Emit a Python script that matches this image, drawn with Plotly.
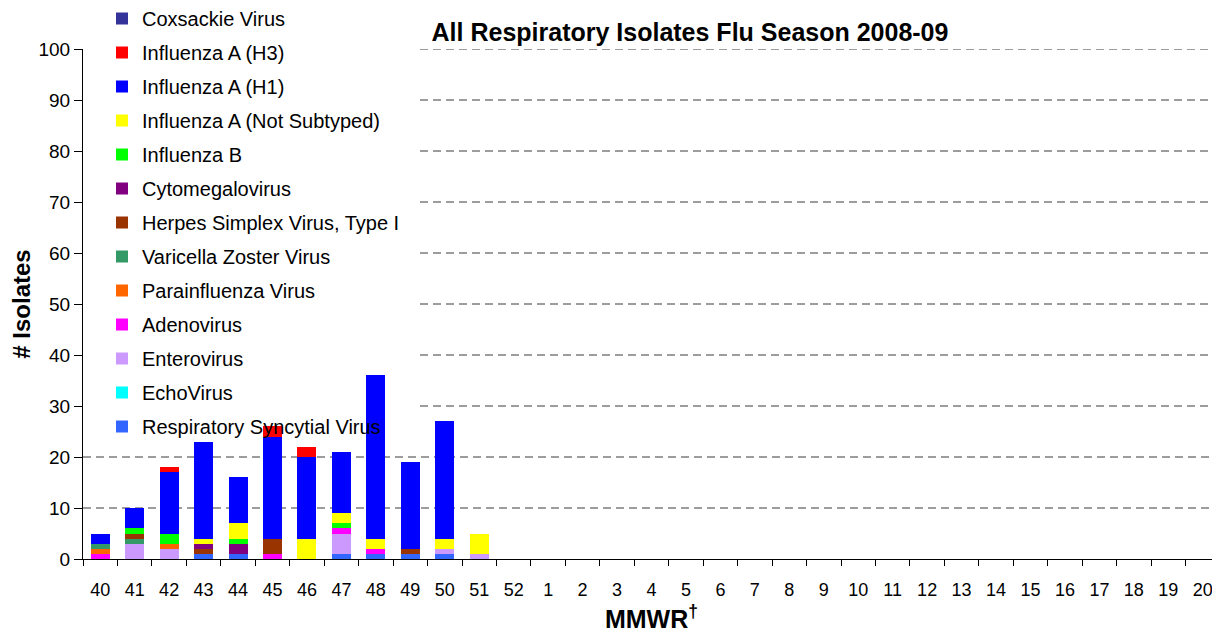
import plotly.graph_objects as go

weeks = ["40", "41", "42", "43", "44", "45", "46", "47", "48", "49", "50", "51", "52",
         "1", "2", "3", "4", "5", "6", "7", "8", "9", "10", "11", "12", "13", "14",
         "15", "16", "17", "18", "19", "20"]

pad = [0] * 21  # weeks 52..20 have no isolates

rsv        = [0, 0, 0, 1, 1, 0, 0, 1, 1, 1, 1, 0] + pad
echo       = [0, 0, 0, 0, 0, 0, 0, 0, 0, 0, 0, 0] + pad
entero     = [0, 3, 2, 0, 0, 0, 0, 4, 0, 0, 1, 1] + pad
adeno      = [1, 0, 0, 0, 0, 1, 0, 1, 1, 0, 0, 0] + pad
parainf    = [1, 0, 1, 0, 0, 0, 0, 0, 0, 0, 0, 0] + pad
varicella  = [1, 1, 0, 0, 0, 0, 0, 0, 0, 0, 0, 0] + pad
hsv1       = [0, 1, 0, 1, 0, 3, 0, 0, 0, 1, 0, 0] + pad
cmv        = [0, 0, 0, 1, 2, 0, 0, 0, 0, 0, 0, 0] + pad
flu_b      = [0, 1, 2, 0, 1, 0, 0, 1, 0, 0, 0, 0] + pad
flu_a_ns   = [0, 0, 0, 1, 3, 0, 4, 2, 2, 0, 2, 4] + pad
flu_a_h1   = [2, 4, 12, 19, 9, 20, 16, 12, 32, 17, 23, 0] + pad
flu_a_h3   = [0, 0, 1, 0, 0, 2, 2, 0, 0, 0, 0, 0] + pad
coxsackie  = [0, 0, 0, 0, 0, 0, 0, 0, 0, 0, 0, 0] + pad

# y-axis gridline values
grid_full = [10, 20]                              # run the full width
grid_partial = [30, 40, 50, 60, 70, 80, 90, 100]  # hidden behind the legend area

# bottom to top stacking order
series = [
    ("Respiratory Syncytial Virus", rsv, "#3366FF"),
    ("EchoVirus", echo, "#00FFFF"),
    ("Enterovirus", entero, "#CC99FF"),
    ("Adenovirus", adeno, "#FF00FF"),
    ("Parainfluenza Virus", parainf, "#FF6600"),
    ("Varicella Zoster Virus", varicella, "#339966"),
    ("Herpes Simplex Virus, Type I", hsv1, "#993300"),
    ("Cytomegalovirus", cmv, "#800080"),
    ("Influenza B", flu_b, "#00FF00"),
    ("Influenza A (Not Subtyped)", flu_a_ns, "#FFFF00"),
    ("Influenza A (H1)", flu_a_h1, "#0000FF"),
    ("Influenza A (H3)", flu_a_h3, "#FF0000"),
    ("Coxsackie Virus", coxsackie, "#333399"),
]

FONT = "Liberation Sans, Arial, sans-serif"

fig = go.Figure()
n = len(series)
for i, (name, vals, color) in enumerate(series):
    fig.add_trace(go.Bar(x=weeks, y=vals, name=name, legendgroup=name,
                         legendrank=n - i,
                         marker=dict(color=color, line=dict(width=0))))

# page body has an 8px margin; compensate so the plot lands where the reference has it
OFF = 8
W, H = 1220 - OFF, 633 - OFF
L, T = 83 - OFF, 49 - OFF
B = H - (559 - OFF)
R = 0
PW, PH = W - L - R, H - T - B

GRID = dict(color="#3a3a3a", width=1, dash="8px,5px")
for g in grid_full:
    fig.add_shape(type="line", xref="paper", yref="y", layer="below",
                  x0=0, x1=1, y0=g, y1=g, line=GRID)
for g in grid_partial:
    fig.add_shape(type="line", xref="paper", yref="y", layer="below",
                  x0=(420 - 83) / PW, x1=1, y0=g, y1=g, line=GRID)

fig.update_layout(
    width=W, height=H,
    margin=dict(l=L, r=R, t=T, b=B, autoexpand=False),
    barmode="stack",
    bargap=0.45,
    plot_bgcolor="white",
    paper_bgcolor="white",
    font=dict(family=FONT, color="black", size=18),
    title=dict(text="<b>All Respiratory Isolates Flu Season 2008-09</b>",
               x=(690 - OFF - L) / PW, xref="paper", xanchor="center",
               y=1 - (32 - OFF) / H, yref="container", yanchor="middle",
               font=dict(size=25, family=FONT, color="black")),
    legend=dict(traceorder="grouped", tracegroupgap=5,
                x=(116 - OFF - 14 - L) / PW, xanchor="left",
                y=1 + (T + 9) / PH, yanchor="top",
                bgcolor="rgba(0,0,0,0)", borderwidth=0,
                font=dict(size=20, family=FONT),
                itemwidth=30, maxheight=H + 20),
    xaxis=dict(type="category", categoryorder="array", categoryarray=weeks,
               showline=True, linecolor="black", linewidth=1,
               ticks="outside", ticklen=6, tickcolor="black",
               tickson="boundaries", ticklabelstandoff=14,
               tickfont=dict(size=18),
               title=dict(text="<b>MMWR<sup>†</sup></b>", font=dict(size=25), standoff=22),
               showgrid=False, zeroline=False),
    yaxis=dict(range=[0, 100], dtick=10,
               showline=True, linecolor="black", linewidth=1,
               ticks="outside", ticklen=8, tickcolor="black",
               tickfont=dict(size=19),
               title=dict(text="<b># Isolates</b>", font=dict(size=24), standoff=8),
               showgrid=False, zeroline=False),
)

fig.write_html("out.html")
